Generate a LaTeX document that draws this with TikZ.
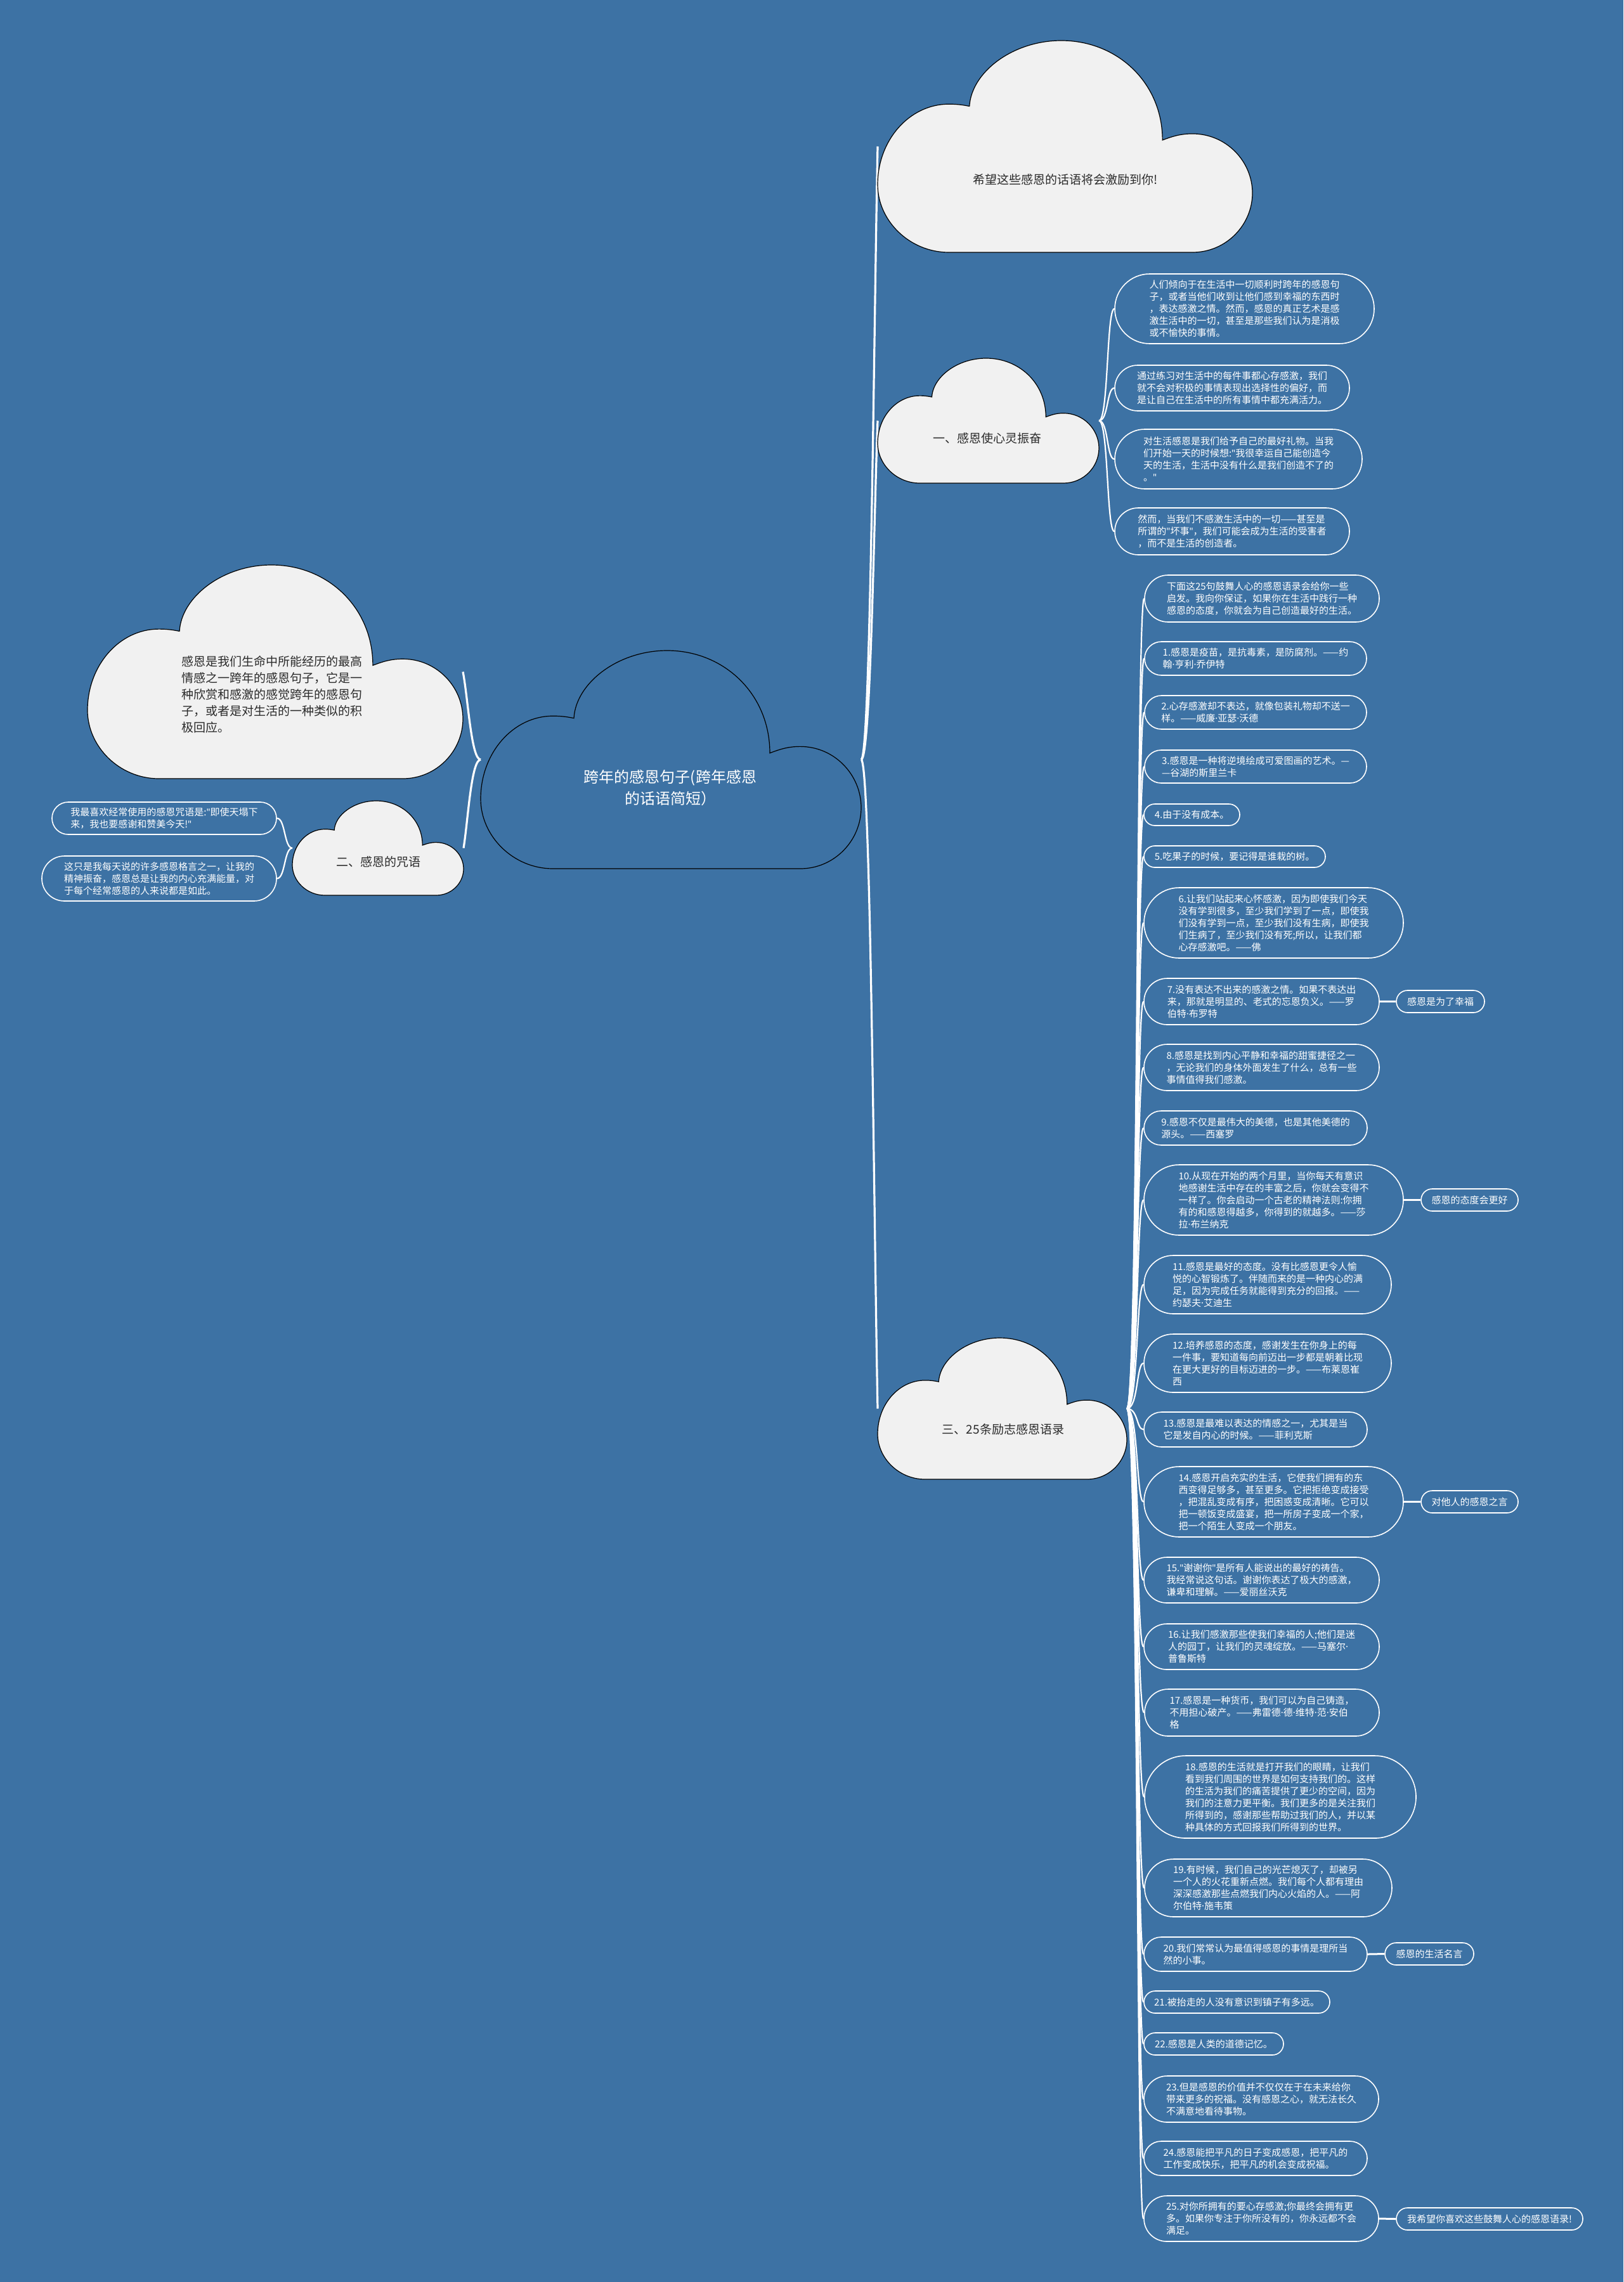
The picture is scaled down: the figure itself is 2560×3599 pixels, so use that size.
\documentclass[tikz,border=0pt]{standalone}
\usepackage{fontspec}
\setmainfont{Noto Sans CJK SC}
\newfontfamily\latinfont{Noto Sans}
\newcommand\md{{\latinfont ·}}
\newcommand\qt{{\latinfont "}}
\definecolor{bgblue}{HTML}{3D72A4}
\definecolor{cloudgray}{HTML}{F1F1F1}
\definecolor{cloudtxt}{HTML}{2B2B2B}
\newcommand\cloudshape[5]{%
  \begin{scope}[shift={(#1,#2)},xscale=#3,yscale=#4]
  \path[#5] (0.19,1) .. controls (0.085,1) and (0,0.85) .. (0,0.68)
    .. controls (0,0.47) and (0.085,0.30) .. (0.19,0.30)
    .. controls (0.215,0.30) and (0.23,0.305) .. (0.245,0.31)
    .. controls (0.25,0.15) and (0.36,0) .. (0.49,0)
    .. controls (0.64,0) and (0.76,0.2) .. (0.76,0.47)
    .. controls (0.79,0.45) and (0.81,0.44) .. (0.84,0.44)
    .. controls (0.93,0.44) and (1,0.57) .. (1,0.72)
    .. controls (1,0.87) and (0.93,1) .. (0.84,1) -- cycle;
  \end{scope}}
\tikzset{
  leaf/.style={draw=white, line width=1.6pt, text=white, align=left,
    font=\fontsize{15}{19}\selectfont, inner sep=0pt},
  conn/.style={white, line width=2.2pt},
  mainconn/.style={white, line width=3.2pt},
  labconn/.style={white, line width=3pt},
  cloudgrey/.style={fill=cloudgray, draw=black, line width=1.2pt},
  cloudblue/.style={fill=bgblue, draw=black, line width=1.2pt},
  cloudbox/.style={inner sep=0pt, outer sep=0pt},
  cloudlabel/.style={text=cloudtxt, align=center, font=\fontsize{19}{26}\selectfont, inner sep=0pt},
}
\begin{document}
\begin{tikzpicture}[x=1pt,y=-1pt]
\fill[bgblue] (0,0) rectangle (2560,3599);
\useasboundingbox (0,0) rectangle (2560,3599);

% cloud bounding nodes
\node[cloudbox, minimum width=591pt, minimum height=334pt] (top) at (1679.5,231) {};
\node[cloudbox, minimum width=349pt, minimum height=197pt] (b1) at (1558.5,663.5) {};
\node[cloudbox, minimum width=600pt, minimum height=344pt] (ctr) at (1058,1198) {};
\node[cloudbox, minimum width=592pt, minimum height=337pt] (lc) at (434,1059.5) {};
\node[cloudbox, minimum width=270pt, minimum height=149pt] (b2) at (596,1337.5) {};
\node[cloudbox, minimum width=393pt, minimum height=223pt] (b3) at (1580.5,2221.5) {};

% leaves of branch 1
\node[leaf, minimum width=409pt, minimum height=110pt, rounded corners=55pt] (a1) at (1962.5,487) {人们倾向于在生活中一切顺利时跨年的感恩句\\子，或者当他们收到让他们感到幸福的东西时\\，表达感激之情。然而，感恩的真正艺术是感\\激生活中的一切，甚至是那些我们认为是消极\\或不愉快的事情。};
\node[leaf, minimum width=370pt, minimum height=72pt, rounded corners=36pt] (a2) at (1943,612) {通过练习对生活中的每件事都心存感激，我们\\就不会对积极的事情表现出选择性的偏好，而\\是让自己在生活中的所有事情中都充满活力。};
\node[leaf, minimum width=390pt, minimum height=94pt, rounded corners=47pt] (a3) at (1953,724) {对生活感恩是我们给予自己的最好礼物。当我\\们开始一天的时候想:\qt{}我很幸运自己能创造今\\天的生活，生活中没有什么是我们创造不了的\\。\qt};
\node[leaf, minimum width=370pt, minimum height=74pt, rounded corners=37pt] (a4) at (1943,838) {然而，当我们不感激生活中的一切——甚至是\\所谓的\qt{}坏事\qt{}，我们可能会成为生活的受害者\\，而不是生活的创造者。};

% leaves of branch 2
\node[leaf, minimum width=354pt, minimum height=51pt, rounded corners=25.5pt] (c1) at (259,1290.5) {我最喜欢经常使用的感恩咒语是:\qt{}即使天塌下\\来，我也要感谢和赞美今天!\qt};
\node[leaf, minimum width=370pt, minimum height=71pt, rounded corners=35.5pt] (c2) at (251,1385.5) {这只是我每天说的许多感恩格言之一，让我的\\精神振奋，感恩总是让我的内心充满能量，对\\于每个经常感恩的人来说都是如此。};

% leaves of branch 3
\node[leaf, minimum width=370pt, minimum height=74pt, rounded corners=37pt] (i0) at (1990,944) {下面这25句鼓舞人心的感恩语录会给你一些\\启发。我向你保证，如果你在生活中践行一种\\感恩的态度，你就会为自己创造最好的生活。};
\node[leaf, minimum width=350pt, minimum height=53pt, rounded corners=26.5pt] (i1) at (1980,1038.5) {1.感恩是疫苗，是抗毒素，是防腐剂。——约\\翰\md{}亨利\md{}乔伊特};
\node[leaf, minimum width=350pt, minimum height=53pt, rounded corners=26.5pt] (i2) at (1980,1123.5) {2.心存感激却不表达，就像包装礼物却不送一\\样。——威廉\md{}亚瑟\md{}沃德};
\node[leaf, minimum width=350pt, minimum height=52pt, rounded corners=26pt] (i3) at (1980,1209) {3.感恩是一种将逆境绘成可爱图画的艺术。—\\—谷湖的斯里兰卡};
\node[leaf, minimum width=151pt, minimum height=34pt, rounded corners=17pt] (i4) at (1879.5,1285) {4.由于没有成本。};
\node[leaf, minimum width=286pt, minimum height=34pt, rounded corners=17pt] (i5) at (1947,1351) {5.吃果子的时候，要记得是谁栽的树。};
\node[leaf, minimum width=409pt, minimum height=111pt, rounded corners=55.5pt] (i6) at (2008.5,1455.5) {6.让我们站起来心怀感激，因为即使我们今天\\没有学到很多，至少我们学到了一点，即使我\\们没有学到一点，至少我们没有生病，即使我\\们生病了，至少我们没有死;所以，让我们都\\心存感激吧。——佛};
\node[leaf, minimum width=371pt, minimum height=73pt, rounded corners=36.5pt] (i7) at (1989.5,1579.5) {7.没有表达不出来的感激之情。如果不表达出\\来，那就是明显的、老式的忘恩负义。——罗\\伯特\md{}布罗特};
\node[leaf, minimum width=139pt, minimum height=35pt, rounded corners=17.5pt] (t7) at (2271.5,1579.5) {感恩是为了幸福};
\node[leaf, minimum width=371pt, minimum height=73pt, rounded corners=36.5pt] (i8) at (1989.5,1683.5) {8.感恩是找到内心平静和幸福的甜蜜捷径之一\\，无论我们的身体外面发生了什么，总有一些\\事情值得我们感激。};
\node[leaf, minimum width=352pt, minimum height=54pt, rounded corners=27pt] (i9) at (1980,1779) {9.感恩不仅是最伟大的美德，也是其他美德的\\源头。——西塞罗};
\node[leaf, minimum width=409pt, minimum height=111pt, rounded corners=55.5pt] (i10) at (2008.5,1892.5) {10.从现在开始的两个月里，当你每天有意识\\地感谢生活中存在的丰富之后，你就会变得不\\一样了。你会启动一个古老的精神法则:你拥\\有的和感恩得越多，你得到的就越多。——莎\\拉\md{}布兰纳克};
\node[leaf, minimum width=153pt, minimum height=35pt, rounded corners=17.5pt] (t10) at (2317.5,1892.5) {感恩的态度会更好};
\node[leaf, minimum width=390pt, minimum height=92pt, rounded corners=46pt] (i11) at (1999,2026) {11.感恩是最好的态度。没有比感恩更令人愉\\悦的心智锻炼了。伴随而来的是一种内心的满\\足，因为完成任务就能得到充分的回报。——\\约瑟夫\md{}艾迪生};
\node[leaf, minimum width=390pt, minimum height=92pt, rounded corners=46pt] (i12) at (1999,2150) {12.培养感恩的态度，感谢发生在你身上的每\\一件事，要知道每向前迈出一步都是朝着比现\\在更大更好的目标迈进的一步。——布莱恩崔\\西};
\node[leaf, minimum width=352pt, minimum height=55pt, rounded corners=27.5pt] (i13) at (1980,2254.5) {13.感恩是最难以表达的情感之一，尤其是当\\它是发自内心的时候。——菲利克斯};
\node[leaf, minimum width=409pt, minimum height=111pt, rounded corners=55.5pt] (i14) at (2008.5,2368.5) {14.感恩开启充实的生活，它使我们拥有的东\\西变得足够多，甚至更多。它把拒绝变成接受\\，把混乱变成有序，把困惑变成清晰。它可以\\把一顿饭变成盛宴，把一所房子变成一个家，\\把一个陌生人变成一个朋友。};
\node[leaf, minimum width=153pt, minimum height=35pt, rounded corners=17.5pt] (t14) at (2317.5,2368.5) {对他人的感恩之言};
\node[leaf, minimum width=371pt, minimum height=72pt, rounded corners=36pt] (i15) at (1989.5,2492) {15.\qt{}谢谢你\qt{}是所有人能说出的最好的祷告。\\我经常说这句话。谢谢你表达了极大的感激，\\谦卑和理解。——爱丽丝沃克};
\node[leaf, minimum width=371pt, minimum height=72pt, rounded corners=36pt] (i16) at (1989.5,2597) {16.让我们感激那些使我们幸福的人;他们是迷\\人的园丁，让我们的灵魂绽放。——马塞尔\md\\普鲁斯特};
\node[leaf, minimum width=370pt, minimum height=74pt, rounded corners=37pt] (i17) at (1990,2701) {17.感恩是一种货币，我们可以为自己铸造，\\不用担心破产。——弗雷德\md{}德\md{}维特\md{}范\md{}安伯\\格};
\node[leaf, minimum width=428pt, minimum height=130pt, rounded corners=65pt] (i18) at (2019,2834) {18.感恩的生活就是打开我们的眼睛，让我们\\看到我们周围的世界是如何支持我们的。这样\\的生活为我们的痛苦提供了更少的空间，因为\\我们的注意力更平衡。我们更多的是关注我们\\所得到的，感谢那些帮助过我们的人，并以某\\种具体的方式回报我们所得到的世界。};
\node[leaf, minimum width=390pt, minimum height=91pt, rounded corners=45.5pt] (i19) at (2000,2977.5) {19.有时候，我们自己的光芒熄灭了，却被另\\一个人的火花重新点燃。我们每个人都有理由\\深深感激那些点燃我们内心火焰的人。——阿\\尔伯特\md{}施韦策};
\node[leaf, minimum width=352pt, minimum height=54pt, rounded corners=27pt] (i20) at (1980,3082) {20.我们常常认为最值得感恩的事情是理所当\\然的小事。};
\node[leaf, minimum width=140pt, minimum height=35pt, rounded corners=17.5pt] (t20) at (2254,3081.5) {感恩的生活名言};
\node[leaf, minimum width=293pt, minimum height=35pt, rounded corners=17.5pt] (i21) at (1950.5,3157.5) {21.被抬走的人没有意识到镇子有多远。};
\node[leaf, minimum width=220pt, minimum height=35pt, rounded corners=17.5pt] (i22) at (1914,3223.5) {22.感恩是人类的道德记忆。};
\node[leaf, minimum width=370pt, minimum height=73pt, rounded corners=36.5pt] (i23) at (1989,3310.5) {23.但是感恩的价值并不仅仅在于在未来给你\\带来更多的祝福。没有感恩之心，就无法长久\\不满意地看待事物。};
\node[leaf, minimum width=352pt, minimum height=54pt, rounded corners=27pt] (i24) at (1980,3404) {24.感恩能把平凡的日子变成感恩，把平凡的\\工作变成快乐，把平凡的机会变成祝福。};
\node[leaf, minimum width=370pt, minimum height=72pt, rounded corners=36pt] (i25) at (1989,3499) {25.对你所拥有的要心存感激;你最终会拥有更\\多。如果你专注于你所没有的，你永远都不会\\满足。};
\node[leaf, minimum width=294pt, minimum height=35pt, rounded corners=17.5pt] (t25) at (2349,3499.5) {我希望你喜欢这些鼓舞人心的感恩语录!};

% connectors from the central cloud
\draw[mainconn] (ctr.east) .. controls (1373,1198) and (1378,520) .. (top.west);
\draw[mainconn] (ctr.east) .. controls (1373,1198) and (1378,823) .. (b1.west);
\draw[mainconn] (ctr.east) .. controls (1373,1198) and (1378,1914) .. (b3.west);
\draw[mainconn] (ctr.west) .. controls (743,1198) and (738,1100) .. (lc.east);
\draw[mainconn] (ctr.west) .. controls (743,1198) and (738,1295) .. (b2.east);

% branch 1 connectors
\foreach \n/\ty in {a1/487,a2/612,a3/724,a4/838}
  \draw[conn] (b1.east) .. controls (1748,663.5) and (1745,\ty) .. (\n.west);
% branch 2 connectors
\foreach \n/\ty in {c1/1290.5,c2/1385.5}
  \draw[conn] (b2.west) .. controls (448,1337.5) and (450,\ty) .. (\n.east);
% branch 3 connectors
\foreach \n/\ty in {i0/944,i1/1038.5,i2/1123.5,i3/1209,i4/1285,i5/1351,i6/1455.5,i7/1579.5,i8/1683.5,i9/1779,i10/1892.5,i11/2026,i12/2150,i13/2254.5,i14/2368.5,i15/2492,i16/2597,i17/2701,i18/2834,i19/2977.5,i20/3082,i21/3157.5,i22/3223.5,i23/3310.5,i24/3404,i25/3499}
  \draw[conn] (b3.east) .. controls (1795,2221.5) and (1792,\ty) .. (\n.west);
% label connectors
\draw[labconn] (i7.east) -- (t7.west);
\draw[labconn] (i10.east) -- (t10.west);
\draw[labconn] (i14.east) -- (t14.west);
\draw[labconn] (i20.east) -- (t20.west);
\draw[labconn] (i25.east) -- (t25.west);

% clouds
\cloudshape{1384}{64}{591}{334}{cloudgrey}
\cloudshape{1384}{565}{349}{197}{cloudgrey}
\cloudshape{758}{1026}{600}{344}{cloudblue}
\cloudshape{138}{891}{592}{337}{cloudgrey}
\cloudshape{461}{1263}{270}{149}{cloudgrey}
\cloudshape{1384}{2110}{393}{223}{cloudgrey}

% cloud texts
\node[cloudlabel] (topT) at (1680,283) {希望这些感恩的话语将会激励到你!};
\node[cloudlabel] (b1T) at (1557,691) {一、感恩使心灵振奋};
\node[cloudlabel, text=white, font=\fontsize{24}{34}\selectfont] (ctrT) at (1057,1243) {跨年的感恩句子(跨年感恩\\的话语简短）};
\node[cloudlabel, align=left] (lcT) at (429,1095) {感恩是我们生命中所能经历的最高\\情感之一跨年的感恩句子，它是一\\种欣赏和感激的感觉跨年的感恩句\\子，或者是对生活的一种类似的积\\极回应。};
\node[cloudlabel] (b2T) at (597,1359) {二、感恩的咒语};
\node[cloudlabel] (b3T) at (1582,2254) {三、25条励志感恩语录};
\end{tikzpicture}
\end{document}
